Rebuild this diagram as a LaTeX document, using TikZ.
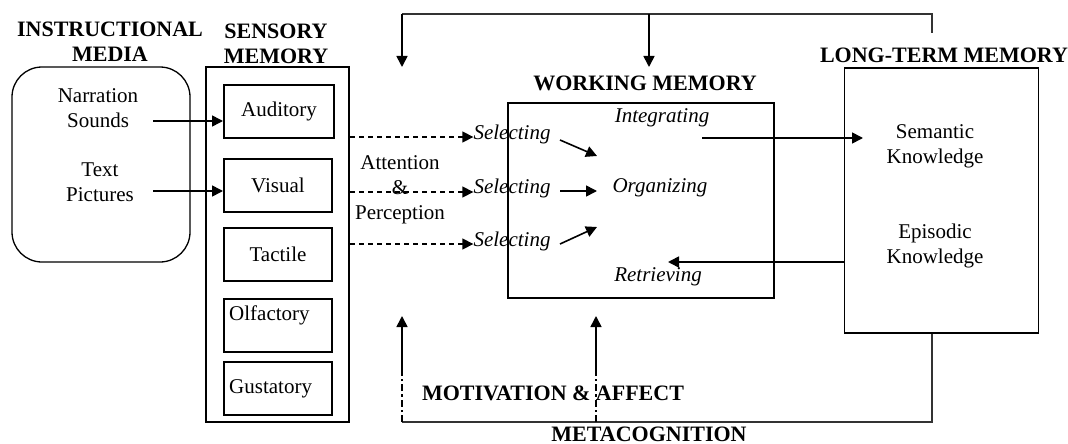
\documentclass[tikz,border=0pt]{standalone}
\usepackage{fontspec}
\setmainfont{Liberation Serif}
\usetikzlibrary{arrows.meta, positioning}

\begin{document}
\begin{tikzpicture}[x=1pt, y=-1pt,
		txt/.style={inner sep=0pt, align=center, font=\fontsize{21}{25}\selectfont},
		head/.style={txt, font=\fontsize{22}{25}\selectfont\bfseries},
		it/.style={txt, font=\fontsize{21}{25}\selectfont\itshape},
		sbox/.style={draw, line width=2pt, minimum width=108pt, minimum height=53pt, inner sep=0pt, font=\fontsize{21}{25}\selectfont},
		arr/.style={-{Triangle[length=11pt, width=11pt]}, line width=1.6pt},
		dasharr/.style={arr, dash pattern=on 5pt off 4pt},
		feed/.style={line width=1.2pt, draw=black!80}]

			\useasboundingbox (0,0) rectangle (1068,444);

			% instructional media
			\node[head] (imtitle) at (110,42) {INSTRUCTIONAL\\MEDIA};
			\node[draw, line width=1.3pt, rounded corners=30pt, minimum width=178pt, minimum height=195pt] (media) at (101,164.5) {};
			\node[txt] (sounds) at (98,108.5) {Narration\\Sounds};
			\node[txt] (pictures) at (100,182) {Text\\Pictures};

			% sensory memory
			\node[head] (smtitle) at (276,44) {SENSORY\\MEMORY};
			\node[draw, line width=2.4pt, minimum width=143pt, minimum height=355pt] (sensory) at (277.5,244.5) {};
			\node[sbox, minimum width=110pt] (auditory) at (279,111) {Auditory};
			\node[sbox] (visual) at (278,185.5) {Visual};
			\node[sbox] (tactile) at (278,254) {Tactile};
			\node[sbox] (olfbox) at (278,325) {};
			\node[txt, below right=8pt and 6pt of olfbox.north west] (olfactory) {Olfactory};
			\node[sbox] (gusbox) at (278,388.5) {};
			\node[txt, right=6pt of gusbox.west] (gustatory) {Gustatory};

			\coordinate (mout1) at (153,121);
			\coordinate (mout2) at (153,191);
			\draw[arr] (mout1) -- (mout1 -| auditory.west);
			\draw[arr] (mout2) -- (mout2 -| visual.west);

			% working memory
			\node[head] (wmtitle) at (645,83) {WORKING MEMORY};
			\node[draw, line width=2.2pt, minimum width=266pt, minimum height=195pt] (wm) at (641,200.5) {};
			\node[it] (integrating) at (662,118) {Integrating};
			\node[it] (organizing) at (660,188) {Organizing};
			\node[it] (retrieving) at (658,277) {Retrieving};
			\node[it] (sel1) at (512,134) {Selecting};
			\node[it] (sel2) at (512,188) {Selecting};
			\node[it] (sel3) at (512,241) {Selecting};
			\node[txt] (attn) at (400,190) {Attention\\\&\\Perception};

			\draw[dasharr] (sensory.east |- 0,137) -- (sensory.east |- 0,137 -| sel1.west);
			\draw[dasharr] (sensory.east |- 0,192) -- (sensory.east |- 0,192 -| sel2.west);
			\draw[dasharr] (sensory.east |- 0,244) -- (sensory.east |- 0,244 -| sel3.west);

			\coordinate (in1) at (597,156);
			\coordinate (in2) at (597,191);
			\coordinate (in3) at (597,227);
			\draw[arr] (560,140) -- (in1);
			\draw[arr] (560,191) -- (in2);
			\draw[arr] (560,244) -- (in3);

			% long-term memory
			\node[head] (ltmtitle) at (944,55) {LONG-TERM MEMORY};
			\node[draw, line width=1.3pt, minimum width=194pt, minimum height=265pt] (ltm) at (941.5,200.5) {};
			\node[txt] (sem) at (935,146) {Semantic\\Knowledge};
			\node[txt] (epi) at (935,246) {Episodic\\Knowledge};

			\coordinate (intout) at (702,138);
			\coordinate (retin) at (668,262);
			\draw[arr] (intout) -- (863,138);
			\draw[arr] (retin -| ltm.west) -- (retin);

			% feedback loops
			\draw[feed] (932,33) -- (932,14) -- (402,14);
			\foreach \x in {402,649}
				\draw[arr] (\x,14) -- (\x,67);

			\draw[feed] (ltm.south -| 932,0) -- (932,422) -- (402,422);
			\foreach \x in {402,596}
			{
				\draw[line width=1.8pt, dash pattern=on 7pt off 3pt on 2.5pt off 3pt] (\x,422) -- (\x,370);
				\draw[arr] (\x,370) -- (\x,316);
			}

			\node[head] (motiv) at (553,393) {MOTIVATION \& AFFECT};
			\node[head] (meta) at (649,434) {METACOGNITION};
		\end{tikzpicture}
\end{document}
